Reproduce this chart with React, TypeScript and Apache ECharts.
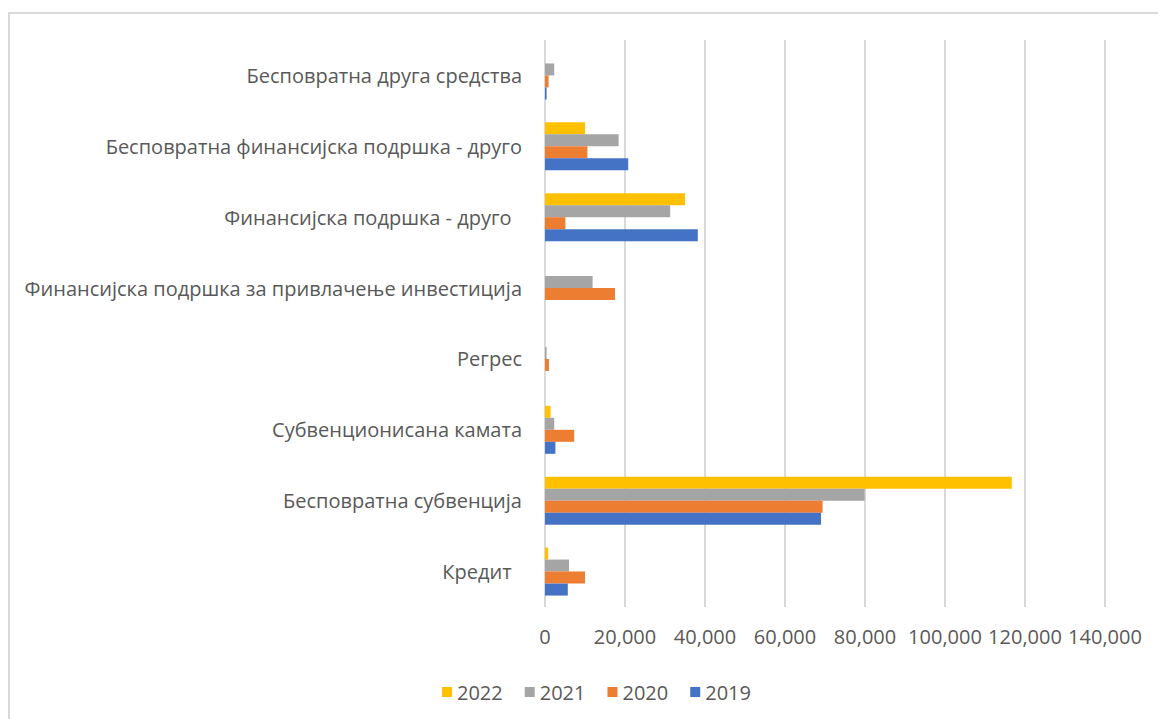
import React, { useEffect, useRef } from "react";
import * as echarts from "echarts";

const categories = [
  "Кредит  ",
  "Бесповратна субвенција",
  "Субвенционисана камата",
  "Регрес",
  "Финансијска подршка за привлачење инвестиција",
  "Финансијска подршка - друго  ",
  "Бесповратна финансијска подршка - друго",
  "Бесповратна друга средства",
];

const years = ["2022", "2021", "2020", "2019"];
const values2019 = [5700, 69000, 2600, 0, 0, 38200, 20800, 400];
const values2020 = [10000, 69400, 7300, 1000, 17500, 5100, 10600, 900];
const values2021 = [6000, 79900, 2300, 400, 11900, 31300, 18400, 2300];
const values2022 = [800, 116700, 1400, 0, 0, 35000, 10000, 0];
const seriesValues = [values2022, values2021, values2020, values2019];
const colors = ["#FFC000", "#A5A5A5", "#ED7D31", "#4472C4"];

const FONT = "'Open Sans', 'Noto Sans', sans-serif";
const TEXT = "#595959";

export default function App() {
  const ref = useRef<HTMLDivElement>(null);
  useEffect(() => {
    if (!ref.current) return;
    const chart = echarts.init(ref.current, undefined, { renderer: "svg" });
    chart.setOption({
      animation: false,
      backgroundColor: "#ffffff",
      textStyle: { fontFamily: FONT },
      graphic: [
        {
          type: "rect",
          shape: { x: 9, y: 13, width: 1200, height: 800 },
          style: { fill: "none", stroke: "#D9D9D9", lineWidth: 2 },
          silent: true,
        },
      ],
      legend: {
        data: years,
        left: 437,
        top: 677,
        itemWidth: 10,
        itemHeight: 10,
        itemGap: 22,
        icon: "rect",
        textStyle: { color: TEXT, fontSize: 20, fontFamily: FONT },
      },
      grid: { left: 545, right: 53, top: 40, bottom: 112, containLabel: false },
      xAxis: {
        type: "value",
        min: 0,
        max: 140000,
        interval: 20000,
        axisLine: { show: false },
        axisTick: { show: false },
        splitLine: { show: true, lineStyle: { color: "#D9D9D9", width: 2 } },
        axisLabel: {
          color: TEXT,
          fontSize: 20,
          fontFamily: FONT,
          margin: 19,
          formatter: (v: number) => v.toLocaleString("en-US"),
        },
      },
      yAxis: {
        type: "category",
        data: categories,
        axisLine: { show: false },
        axisTick: { show: false },
        axisLabel: { color: TEXT, fontSize: 20, fontFamily: FONT, margin: 23 },
      },
      series: years.map((y, i) => ({
        name: y,
        type: "bar",
        data: seriesValues[i],
        barWidth: 12,
        barGap: "0%",
        itemStyle: { color: colors[i] },
      })),
    });
    return () => chart.dispose();
  }, []);
  return (
    <div
      ref={ref}
      style={{ position: "fixed", left: 0, top: 0, width: 1158, height: 719 }}
    />
  );
}
